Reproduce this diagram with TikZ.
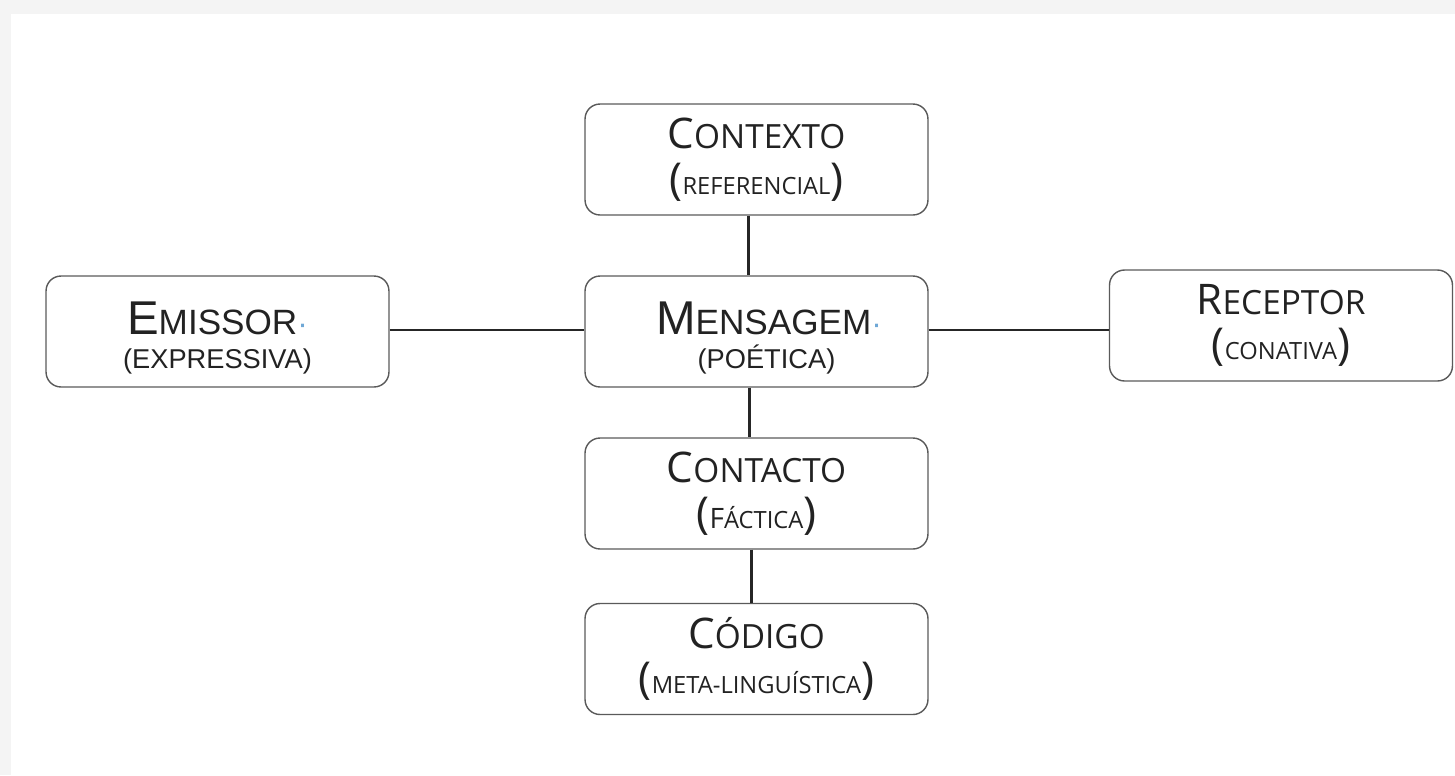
\documentclass[tikz,border=0pt]{standalone}
\usepackage{fontspec}
\setmainfont{Open Sans}
\newfontfamily\arialfont{Liberation Sans}
\usetikzlibrary{positioning, calc}
\definecolor{boxline}{HTML}{5A5A5A}
\definecolor{dotblue}{HTML}{6FA8D6}
\definecolor{inkgray}{HTML}{222222}
\definecolor{scanband}{HTML}{F4F4F4}
\newcommand{\bigsc}[2]{{\fontsize{24}{26}\selectfont #1}{\fontsize{19}{26}\selectfont #2}}
\newcommand{\parsc}[2]{{\fontsize{25}{26}\selectfont(}{\fontsize{16}{26}\selectfont #1}{\fontsize{13.5}{26}\selectfont #2}{\fontsize{25}{26}\selectfont)}}
\newcommand{\arialsc}[2]{\rule{0pt}{26pt}{\fontsize{27}{19}\selectfont #1}{\fontsize{20}{19}\selectfont #2}{\color{dotblue}\fontsize{18}{19}\selectfont\textperiodcentered}}
\tikzset{funcbox/.style={draw=boxline, line width=0.8pt, rounded corners=0.3cm, fill=white,
  minimum width=6.86cm, minimum height=2.22cm, align=center, text=inkgray,
  font=\fontsize{19}{26}\selectfont}}
\tikzset{arialbox/.style={funcbox, font=\arialfont\fontsize{15.5}{19}\selectfont}}
\tikzset{link/.style={line width=1.6pt, black!85}}

\begin{document}
\begin{tikzpicture}[x=0.02cm, y=-0.02cm]
  \useasboundingbox (0,0) rectangle (1455,775);
  \fill[scanband] (0,0) rectangle (1455,14);
  \fill[scanband] (0,14) rectangle (11,775);

  \node[funcbox] (contexto) at (756.5,159.5) {\bigsc{C}{ONTEXTO}\\\parsc{}{REFERENCIAL}};
  \node[arialbox] (emissor) at (217.5,331.5) {\arialsc{E}{MISSOR}\\(EXPRESSIVA)};
  \node[arialbox] (mensagem) at (756.5,331.5) {\hspace*{0.5cm}\arialsc{M}{ENSAGEM}\\\hspace*{0.4cm}(POÉTICA)};
  \node[funcbox] (receptor) at (1281,325.5) {\bigsc{R}{ECEPTOR}\\\parsc{}{CONATIVA}};
  \node[funcbox] (contacto) at (756.5,493.5) {\bigsc{C}{ONTACTO}\\\parsc{F}{ÁCTICA}};
  \node[funcbox] (codigo) at (756.5,659) {\bigsc{C}{ÓDIGO}\\\parsc{}{META-LINGUÍSTICA}};

  \draw[link] ([xshift=-0.16cm]contexto.south) -- ([xshift=-0.16cm]contexto.south |- mensagem.north);
  \draw[link] ([xshift=-0.14cm]mensagem.south) -- ([xshift=-0.14cm]mensagem.south |- contacto.north);
  \draw[link] ([xshift=-0.1cm]contacto.south) -- ([xshift=-0.1cm]contacto.south |- codigo.north);
  \draw[link] (emissor.east |- 0,330) -- (mensagem.west |- 0,330);
  \draw[link] (mensagem.east |- 0,330) -- (receptor.west |- 0,330);
\end{tikzpicture}
\end{document}
